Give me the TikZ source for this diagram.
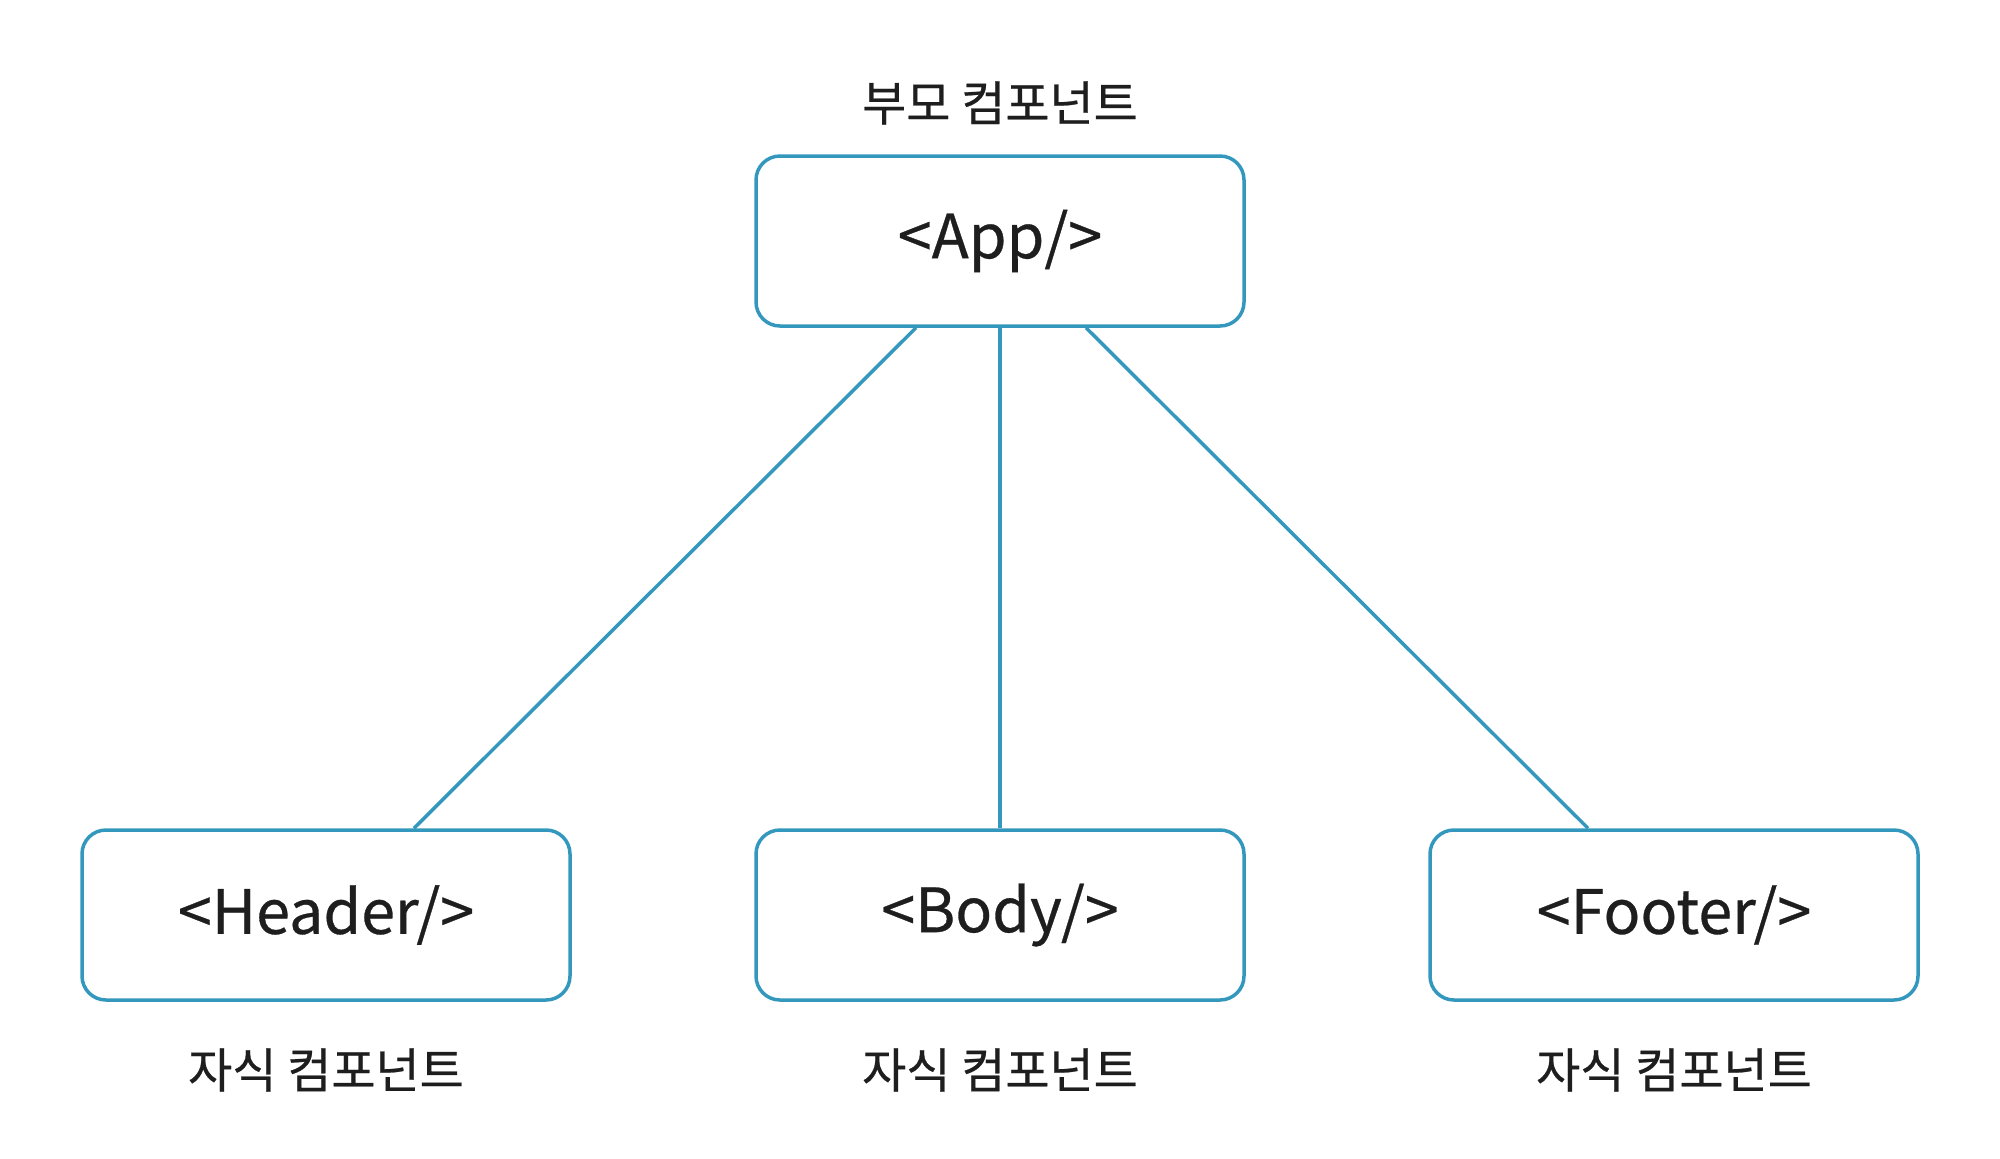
\documentclass[tikz,border=0pt]{standalone}
\usepackage{fontspec}
\setmainfont{Noto Sans CJK KR}
\newfontface\medface{Noto Sans CJK KR}[FakeBold=0.5]
\definecolor{boxblue}{RGB}{52,152,190}
\definecolor{txt}{RGB}{30,30,30}
\begin{document}
\begin{tikzpicture}[x=1pt,y=-1pt,
  comp/.style={draw=boxblue, line width=3.5pt, rounded corners=24pt, minimum width=488pt, minimum height=170pt, inner sep=0pt, text=txt, font=\medface\fontsize{61}{70}\selectfont},
  lbl/.style={text=txt, font=\medface\fontsize{48}{56}\selectfont, inner sep=0pt},
  link/.style={draw=boxblue, line width=3.5pt}]
\useasboundingbox (0,0) rectangle (2000,1159);
\node[comp] (app) at (1000,241) {<App/>};
\node[comp] (header) at (326,915) {<Header/>};
\node[comp] (body) at (1000,915) {<Body/>};
\node[comp] (footer) at (1674,915) {<Footer/>};
\node[lbl] (tl) at (1000,103) {부모 컴포넌트};
\node[lbl] (hl) at (326,1070) {자식 컴포넌트};
\node[lbl] (bl) at (1000,1070) {자식 컴포넌트};
\node[lbl] (fl) at (1674,1070) {자식 컴포넌트};
\draw[link] ([xshift=-84pt]app.south) -- ([xshift=88pt]header.north);
\draw[link] (app.south) -- (body.north);
\draw[link] ([xshift=86pt]app.south) -- ([xshift=-86pt]footer.north);
\end{tikzpicture}
\end{document}
